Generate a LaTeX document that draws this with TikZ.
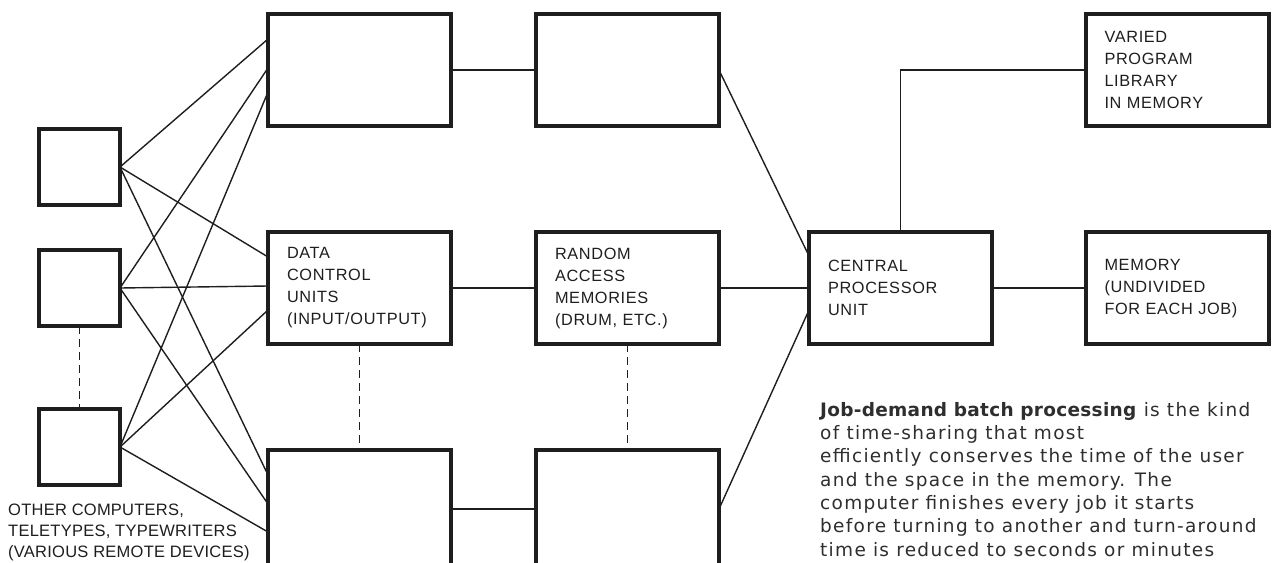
\documentclass[tikz,border=0pt]{standalone}
\usepackage{fontspec}
\setmainfont{Liberation Sans}
\newfontfamily\lblfont[LetterSpace=4.0]{Liberation Sans}
\newfontfamily\remfont[LetterSpace=1.5]{Liberation Sans}
\newfontfamily\capfont[LetterSpace=7.0, BoldFeatures={LetterSpace=1.5}]{DejaVu Sans}
\usetikzlibrary{positioning,calc}
\definecolor{ink}{HTML}{1E1E1E}
\definecolor{captext}{HTML}{2E2E2E}

\begin{document}
\begin{tikzpicture}[
  x=1pt, y=1pt,
  font=\lblfont\fontsize{16.3}{22}\selectfont,
  box/.style={draw=ink, rectangle, line width=4pt, outer sep=0pt, minimum height=112pt, text width=145pt, inner xsep=19pt, align=left, text=ink},
  dev/.style={draw=ink, rectangle, line width=4pt, outer sep=0pt, minimum width=81pt, minimum height=76pt, inner sep=0pt},
  wire/.style={draw=ink, line width=1.4pt},
  link/.style={draw=ink, line width=1.4pt, dash pattern=on 8pt off 5pt},
]
  \useasboundingbox (0,0) rectangle (1273,-562);

  \node[box] (io1) at (359.5,-70) {};
  \node[box, below=106pt of io1] (io2) {DATA\\CONTROL\\UNITS\\(INPUT/OUTPUT)};
  \node[box, below=106pt of io2, minimum height=118pt] (io3) {};
  \node[box, right=85pt of io1] (ram1) {};
  \node[box, right=85pt of io2] (ram2) {RANDOM\\ACCESS\\MEMORIES\\(DRUM, ETC.)};
  \node[box, right=85pt of io3, minimum height=118pt] (ram3) {};
  \node[box, right=90pt of ram2] (cpu) {CENTRAL\\PROCESSOR\\UNIT};
  \node[box, right=93.5pt of cpu] (mem) {MEMORY\\(UNDIVIDED\\FOR EACH JOB)};
  \node[box, anchor=west] (lib) at ([xshift=93.5pt]cpu.east|-ram1) {VARIED\\PROGRAM\\LIBRARY\\IN MEMORY};

  \node[dev, left=148pt of io2] (devB) {};
  \node[dev, above=45pt of devB] (devA) {};
  \node[dev, below=83pt of devB] (devC) {};

  \node[anchor=north west, align=left, inner sep=0pt, text=ink, font=\remfont\fontsize{16.5}{21}\selectfont] (remote) at (8,-503.5)
    {OTHER COMPUTERS,\\TELETYPES, TYPEWRITERS\\(VARIOUS REMOTE DEVICES)};

  \node[anchor=north west, align=left, inner sep=0pt, text=captext, font=\capfont\fontsize{18.5}{23.3}\selectfont] (note) at (820,-402)
    {\textbf{Job-demand batch processing} is the kind\\
     of time-sharing that most\\
     efficiently conserves the time of the user\\
     and the space in the memory. The\\
     computer finishes every job it starts\\
     before turning to another and turn-around\\
     time is reduced to seconds or minutes};

  \foreach \src/\off in {devA/31, devB/2, devC/-22}
    \foreach \dst in {io1, io2}
      \draw[wire] (\src.east) -- ([yshift=\off pt]\dst.west);
  \foreach \src/\off in {devA/34, devB/5, devC/-23}
    \draw[wire] (\src.east) -- ([yshift=\off pt]io3.west);

  \draw[wire] (io1) -- (ram1);
  \draw[wire] (io2) -- (ram2);
  \draw[wire] (io3) -- (ram3);
  \draw[wire] (ram1.east) -- ([yshift=32pt]cpu.west);
  \draw[wire] (ram2) -- (cpu);
  \draw[wire] (ram3.east) -- ([yshift=-22pt]cpu.west);
  \draw[wire] (cpu.north) |- (lib.west);
  \draw[wire] (cpu) -- (mem);

  \draw[link] (devB) -- (devC);
  \draw[link] (io2) -- (io3);
  \draw[link] (ram2) -- (ram3);
\end{tikzpicture}
\end{document}
